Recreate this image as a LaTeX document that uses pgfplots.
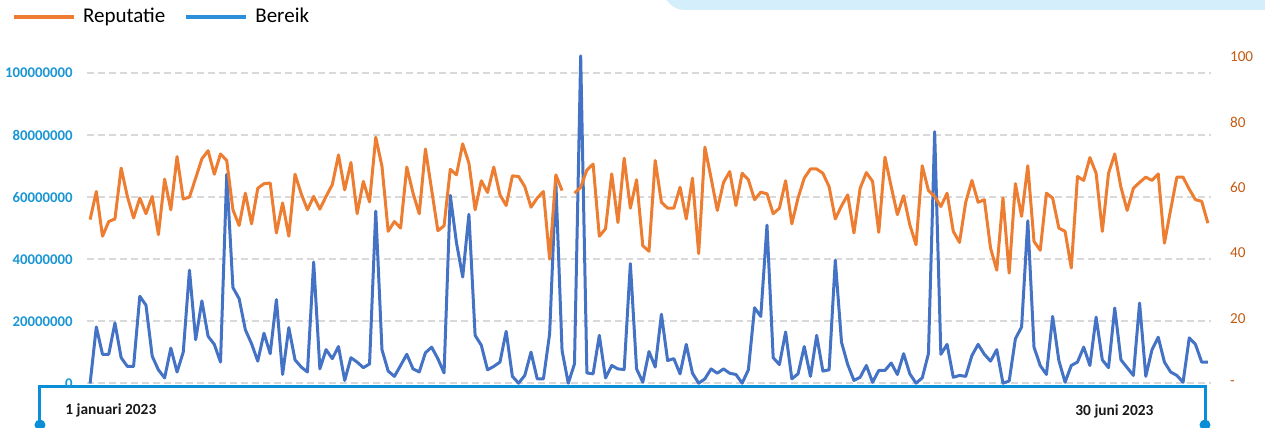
\documentclass[border=0pt]{standalone}
\usepackage{pgfplots}
\pgfplotsset{compat=1.18}
\usepackage{pgfplotstable}
\usepackage{fontspec}
\setmainfont{Carlito}
\definecolor{orep}{HTML}{ED7D31}
\definecolor{bber}{HTML}{4472C4}
\definecolor{legblue}{HTML}{2B8FDA}
\definecolor{ticklblue}{HTML}{1A96D4}
\definecolor{tickorange}{HTML}{C55A11}
\definecolor{axblue}{HTML}{0B8ED8}
\definecolor{gridgray}{HTML}{D9D9D9}
\definecolor{boxblue}{HTML}{D4EEFB}

\pgfplotstableread{
d rep ber
0 50.2 0.0
1 58.8 18.2
2 45.1 9.4
3 49.6 9.4
4 50.4 19.5
5 66.0 8.3
6 57.3 5.5
7 50.7 5.5
8 56.8 28.1
9 52.0 25.2
10 57.3 8.8
11 45.6 4.4
12 62.6 1.8
13 53.2 11.4
14 69.5 3.7
15 56.5 10.1
16 57.1 36.5
17 62.9 14.1
18 68.8 26.6
19 71.3 15.2
20 64.1 12.6
21 70.3 6.9
22 68.3 67.3
23 53.2 30.9
24 48.4 27.3
25 58.3 17.3
26 48.9 12.8
27 59.8 7.2
28 61.2 16.2
29 61.4 9.6
30 46.1 27.0
31 55.3 2.9
32 45.1 18.0
33 64.1 7.6
34 58.1 5.3
35 53.2 3.7
36 57.3 39.1
37 53.4 4.7
38 57.3 10.9
39 60.9 8.0
40 70.0 11.9
41 59.3 1.0
42 67.7 8.3
43 52.0 6.9
44 61.9 5.1
45 55.6 6.3
46 75.4 55.5
47 66.5 10.9
48 46.6 4.0
49 49.6 2.3
50 47.6 5.8
51 66.3 9.4
52 58.3 4.7
53 52.0 3.7
54 71.8 9.9
55 59.3 11.7
56 46.8 8.0
57 48.3 3.4
58 65.6 60.6
59 63.9 45.3
60 73.4 34.3
61 67.5 54.5
62 53.2 15.5
63 62.1 12.3
64 58.5 4.4
65 66.3 5.5
66 57.8 6.9
67 54.5 16.8
68 63.6 2.3
69 63.4 0.1
70 60.3 2.6
71 54.0 10.1
72 56.8 1.5
73 58.8 1.5
74 38.1 16.0
75 63.9 64.9
76 59.1 10.6
77 nan 0.1
78 58.3 6.3
79 60.1 105.5
80 65.4 3.4
81 67.2 3.1
82 45.1 15.5
83 47.4 1.8
84 64.2 5.8
85 49.3 4.7
86 69.0 4.5
87 53.7 38.6
88 62.4 4.7
89 42.2 0.4
90 40.5 10.3
91 68.3 5.3
92 55.5 22.3
93 53.7 7.4
94 53.7 8.0
95 60.1 3.1
96 50.4 12.6
97 62.9 3.3
98 39.8 0.1
99 72.4 1.5
100 62.9 4.7
101 53.0 3.3
102 61.6 4.7
103 64.9 3.3
104 54.5 2.9
105 64.4 0.1
106 62.4 4.4
107 56.3 24.4
108 58.6 21.6
109 58.1 51.0
110 52.0 8.3
111 53.7 6.1
112 62.1 16.6
113 48.9 1.5
114 56.8 3.1
115 62.9 11.9
116 65.7 2.3
117 65.7 15.5
118 64.4 4.0
119 60.3 4.4
120 50.4 39.7
121 54.4 13.3
122 57.8 6.1
123 46.1 1.0
124 59.8 2.0
125 64.6 5.8
126 61.9 0.4
127 46.3 4.2
128 69.3 4.2
129 60.3 6.6
130 51.7 2.9
131 57.5 9.6
132 48.6 3.1
133 42.5 0.1
134 66.7 1.8
135 59.1 9.6
136 57.3 81.1
137 54.2 9.4
138 58.3 12.6
139 46.6 2.0
140 43.2 2.6
141 55.5 2.3
142 62.2 9.0
143 55.5 12.6
144 56.3 9.4
145 41.5 7.2
146 34.7 10.9
147 56.8 0.1
148 33.8 0.8
149 61.2 14.4
150 51.2 18.2
151 66.7 52.4
152 43.5 11.7
153 40.8 5.8
154 58.3 2.9
155 56.8 21.6
156 47.6 7.4
157 46.6 0.4
158 35.4 5.8
159 63.4 6.9
160 62.2 11.7
161 69.2 5.8
162 64.4 21.4
163 46.6 7.6
164 64.4 5.1
165 70.3 24.3
166 60.1 7.6
167 53.0 5.1
168 59.8 2.6
169 61.6 25.9
170 63.2 2.3
171 62.2 10.9
172 64.2 14.9
173 43.0 6.9
174 53.2 3.7
175 63.2 2.6
176 63.2 0.4
177 59.5 14.7
178 56.3 12.6
179 55.8 6.9
180 49.1 6.9
}\datatable

\begin{document}
\begin{tikzpicture}
\useasboundingbox (-43.5pt,-22.25pt) rectangle (589pt,191.75pt);
\begin{scope}
\clip (-43.5pt,-22.25pt) rectangle (589pt,191.75pt);
\fill[boxblue, rounded corners=11pt] (288pt,186.75pt) rectangle (640pt,240pt);
% timeline axis
\draw[axblue, line width=1.5pt] (-23.5pt,-20.75pt) -- (-23.5pt,-1.75pt) -- (559pt,-1.75pt) -- (559pt,-20.75pt);
\fill[axblue] (-23.5pt,-20.75pt) circle (2.75pt);
\fill[axblue] (559pt,-20.75pt) circle (2.75pt);
\node[anchor=west, inner sep=0pt, font=\bfseries\fontsize{7.7}{9}\selectfont, text=black!90] at (-11pt,-13.4pt) {1 januari 2023};
\node[anchor=west, inner sep=0pt, font=\bfseries\fontsize{7.7}{9}\selectfont, text=black!90] at (494pt,-13.9pt) {30 juni 2023};
\end{scope}

\begin{axis}[
  scale only axis, width=562pt, height=163.25pt,
  xmin=-0.5, xmax=180.5, ymin=0, ymax=105.15,
  axis x line=none, axis y line*=left,
  axis line style={draw=none},
  major tick length=0pt,
  xtick=\empty,
  ytick={0,20,40,60,80,100},
  yticklabels={\textbf{0},\textbf{20000000},\textbf{40000000},\textbf{60000000},\textbf{80000000},\textbf{100000000}},
  yticklabel style={font=\fontsize{7.4}{8}\selectfont, text=ticklblue, anchor=east, xshift=-3.6pt},
  ymajorgrids,
  grid style={gridgray, line width=1pt, dash pattern=on 3.5pt off 2pt},
  clip=false,
]
\addplot[bber, line width=1.5pt, line join=round] table[x=d, y=ber] {\datatable};
\end{axis}

\begin{axis}[
  scale only axis, width=562pt, height=163.25pt,
  xmin=-0.5, xmax=180.5, ymin=0, ymax=100,
  axis x line=none, axis y line*=right,
  axis line style={draw=none},
  major tick length=0pt,
  xtick=\empty,
  ytick={0,20,40,60,80,100},
  yticklabels={\mbox{-},20,40,60,80,100},
  yticklabel style={font=\fontsize{7.6}{8}\selectfont, text=tickorange, anchor=west, xshift=6pt},
  /pgf/number format/assume math mode=true,
  unbounded coords=jump,
  clip=false,
  legend columns=2,
  legend style={at={(-0.0667,1.1225)}, anchor=west, draw=none, fill=none,
    inner sep=0pt, outer sep=0pt,
    nodes={inner sep=0pt, font=\fontsize{10.5}{12}\selectfont},
    /tikz/every odd column/.style={column sep=3.5pt},
    /tikz/every even column/.style={column sep=9.5pt}},
  legend image code/.code={\draw[#1, line width=2pt] (0pt,0pt) -- (30pt,0pt);},
]
\addplot[orep, line width=1.5pt, line join=round] table[x=d, y=rep] {\datatable};
\addlegendentry{Reputatie}
\addlegendimage{legblue}
\addlegendentry{Bereik}
\end{axis}
\end{tikzpicture}
\end{document}
